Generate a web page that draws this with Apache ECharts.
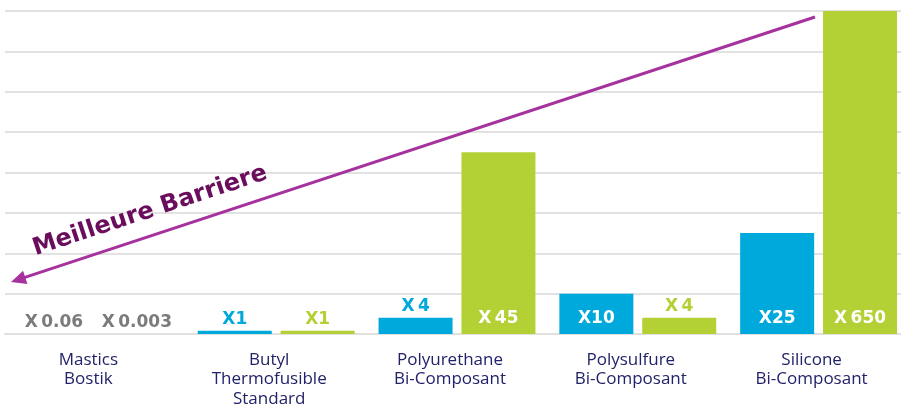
<!DOCTYPE html>
<html>
<head>
<meta charset="utf-8">
<script src="https://cdn.jsdelivr.net/npm/echarts@6/dist/echarts.min.js"></script>
<style>
html,body{margin:0;padding:0;background:#fff;}
#chart{width:901px;height:404px;}
</style>
</head>
<body>
<div id="chart"></div>
<script>
const categories = ['Mastics\nBostik', 'Butyl\nThermofusible\nStandard', 'Polyurethane\nBi-Composant', 'Polysulfure\nBi-Composant', 'Silicone\nBi-Composant'];
// bar heights as drawn (in gridline units)
const blueHeights = [0, 0.08, 0.4, 1.0, 2.5];
const greenHeights = [0, 0.08, 4.5, 0.4, 8.0];
const blueLabels = ['X\u20090.06', 'X1', 'X\u20094', 'X10', 'X25'];
const greenLabels = ['X\u20090.003', 'X1', 'X\u200945', 'X\u20094', 'X\u2009650'];
const yTicks = [0, 1, 2, 3, 4, 5, 6, 7, 8];
const arrowText = 'Meilleure Barriere';

const BLUE = '#00a9dc';
const GREEN = '#b3d034';
const GRAY = '#7b7b7b';

function makeData(heights, labels, color) {
  return heights.map((v, i) => {
    const inside = v >= 1;
    return {
      value: v,
      label: {
        show: true,
        formatter: labels[i],
        position: inside ? 'insideBottom' : 'top',
        distance: inside ? 7 : 3,
        color: inside ? '#ffffff' : (v === 0 ? GRAY : color),
        fontFamily: 'DejaVu Sans',
        fontWeight: 'bold',
        fontSize: 17
      }
    };
  });
}

const chart = echarts.init(document.getElementById('chart'), null, {renderer: 'canvas'});

// arrow geometry (decoration)
const ax1 = 815, ay1 = 17, ax2 = 11, ay2 = 282;
const ang = Math.atan2(ay2 - ay1, ax2 - ax1);
const headLen = 15, headW = 7;
const bx = ax2 - headLen * Math.cos(ang), by = ay2 - headLen * Math.sin(ang);
const px = -Math.sin(ang) * headW, py = Math.cos(ang) * headW;
const rot = Math.atan2(ay2 - ay1, ax1 - ax2);

chart.setOption({
  animation: false,
  grid: {left: 5, top: 11, width: 904, bottom: 70, containLabel: false, outerBoundsMode: 'none'},
  xAxis: {
    type: 'category',
    data: categories,
    axisLine: {show: true, lineStyle: {color: '#e0e0e0', width: 2}},
    axisTick: {show: false},
    axisLabel: {
      color: '#22226a',
      fontFamily: 'Open Sans',
      fontWeight: 'normal',
      fontSize: 17,
      lineHeight: 19.5,
      margin: 16,
      padding: [0, 14, 0, 0]
    }
  },
  yAxis: {
    type: 'value',
    min: yTicks[0],
    max: yTicks[yTicks.length - 1],
    interval: 1,
    axisLine: {show: false},
    axisTick: {show: false},
    axisLabel: {show: false},
    splitLine: {show: true, lineStyle: {color: '#e2e2e2', width: 2}}
  },
  series: [
    {
      type: 'bar',
      data: makeData(blueHeights, blueLabels, BLUE),
      itemStyle: {color: BLUE},
      barWidth: 74,
      barGap: '12%'
    },
    {
      type: 'bar',
      data: makeData(greenHeights, greenLabels, GREEN),
      itemStyle: {color: GREEN},
      barWidth: 74,
      barGap: '12%'
    }
  ],
  graphic: [
    {
      type: 'line',
      shape: {x1: ax1, y1: ay1, x2: bx + 2 * Math.cos(ang), y2: by + 2 * Math.sin(ang)},
      style: {stroke: '#a5329d', lineWidth: 3},
      z: 100
    },
    {
      type: 'polygon',
      shape: {points: [[ax2, ay2], [bx + px, by + py], [bx - px, by - py]]},
      style: {fill: '#a5329d'},
      z: 100
    },
    {
      type: 'text',
      x: 150, y: 211,
      rotation: rot,
      style: {
        text: arrowText,
        fill: '#6a0d5d',
        font: 'bold 24px "DejaVu Sans"',
        textAlign: 'center',
        textVerticalAlign: 'middle'
      },
      z: 100
    }
  ]
});
</script>
</body>
</html>
